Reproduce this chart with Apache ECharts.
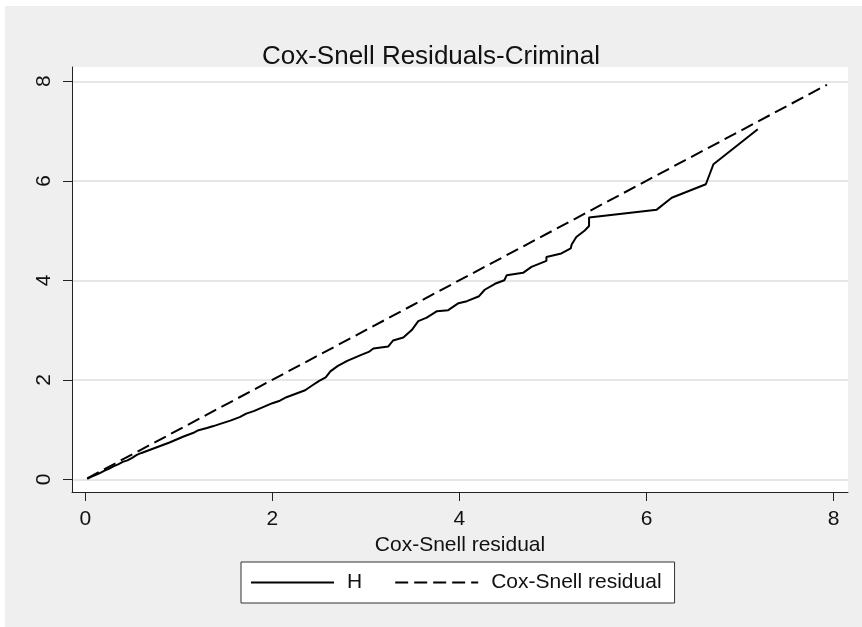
<!DOCTYPE html>
<html>
<head>
<meta charset="utf-8">
<script src="https://cdn.jsdelivr.net/npm/echarts@6/dist/echarts.min.js"></script>
<style>
html,body{margin:0;padding:0;background:#fff;}
#chart{width:862px;height:627px;}
</style>
</head>
<body>
<div id="chart"></div>
<script>
// ---- data ----
var titleText = 'Cox-Snell Residuals-Criminal';
var xAxisTitle = 'Cox-Snell residual';
var seriesNames = ['H', 'Cox-Snell residual'];
var xTicks = [0, 2, 4, 6, 8];
var yTicks = [0, 2, 4, 6, 8];
// Nelson-Aalen cumulative hazard H vs Cox-Snell residual
var hX = [0.02,0.05,0.10,0.15,0.20,0.25,0.30,0.35,0.40,0.45,0.50,0.55,0.60,0.70,0.80,0.90,1.00,1.05,1.15,1.20,1.30,1.37,1.45,1.55,1.65,1.72,1.80,1.90,2.00,2.08,2.15,2.25,2.35,2.42,2.50,2.57,2.62,2.70,2.80,2.90,2.95,3.03,3.08,3.24,3.29,3.40,3.49,3.56,3.65,3.76,3.88,3.99,4.08,4.21,4.27,4.38,4.48,4.505,4.68,4.77,4.93,4.93,5.09,5.19,5.20,5.21,5.25,5.34,5.386,5.386,6.11,6.27,6.635,6.716,7.19];
var hY = [0.01,0.04,0.08,0.12,0.17,0.21,0.26,0.30,0.35,0.38,0.43,0.49,0.53,0.60,0.67,0.74,0.82,0.86,0.93,0.98,1.03,1.07,1.12,1.18,1.25,1.32,1.37,1.45,1.53,1.58,1.65,1.72,1.79,1.88,1.98,2.05,2.17,2.28,2.38,2.46,2.50,2.56,2.63,2.67,2.79,2.85,3.00,3.18,3.25,3.38,3.40,3.54,3.58,3.68,3.81,3.93,4.00,4.10,4.15,4.27,4.39,4.47,4.54,4.64,4.72,4.75,4.87,5.00,5.09,5.26,5.42,5.66,5.93,6.332,7.035];
// Cox-Snell residual plotted against itself (reference line)
var csX = [0.02, 7.93];
var csY = [0.02, 7.93];

function pairs(xs, ys){ return xs.map(function(x,i){ return [x, ys[i]]; }); }

var FONT = '"Liberation Sans", Arial, Helvetica, sans-serif';
var chart = echarts.init(document.getElementById('chart'), null, {renderer:'canvas'});
chart.setOption({
  backgroundColor: '#EFEFEF',
  animation: false,
  textStyle: {fontFamily: FONT},
  graphic: [
    {type:'rect', left:0, top:0, shape:{width:862, height:6}, style:{fill:'#fff'}, z:-10, silent:true},
    {type:'rect', left:0, top:0, shape:{width:5, height:627}, style:{fill:'#fff'}, z:-10, silent:true}
  ],
  title: {
    text: titleText,
    left: 'center',
    top: 39,
    textStyle: {fontFamily: FONT, fontSize: 26, fontWeight: 'normal', color: '#111'}
  },
  grid: {
    left: 72, right: 14, top: 67, bottom: 135,
    show: true, backgroundColor: '#fff', borderWidth: 0
  },
  xAxis: {
    type: 'value',
    min: -0.143, max: 8.155,
    name: xAxisTitle,
    nameLocation: 'middle',
    nameGap: 35,
    nameTextStyle: {fontFamily: FONT, fontSize: 21, color: '#111'},
    axisLine: {show: true, onZero: false, lineStyle: {color: '#222', width: 1}},
    axisTick: {show: true, length: 9, customValues: xTicks, lineStyle: {color: '#222', width: 1}},
    axisLabel: {customValues: xTicks, margin: 17, fontFamily: FONT, fontSize: 21, color: '#111'},
    splitLine: {show: false}
  },
  yAxis: {
    type: 'value',
    min: -0.255, max: 8.287,
    axisLine: {show: true, onZero: false, lineStyle: {color: '#222', width: 1}},
    axisTick: {show: true, length: 9, customValues: yTicks, lineStyle: {color: '#222', width: 1}},
    axisLabel: {customValues: yTicks, rotate: 90, margin: 17, fontFamily: FONT, fontSize: 21, color: '#111'},
    splitLine: {show: true, lineStyle: {color: '#E6E6E6', width: 2}}
  },
  legend: {
    left: 241, top: 562,
    orient: 'horizontal',
    backgroundColor: '#fff',
    borderColor: '#333', borderWidth: 1,
    padding: [10, 13, 10, 9],
    itemWidth: 83, itemHeight: 20,
    itemGap: 32,
    itemStyle: {opacity: 0},
    textStyle: {fontFamily: FONT, fontSize: 21, color: '#111', padding: [0,0,0,8]},
    data: seriesNames
  },
  series: [
    {
      name: seriesNames[0], type: 'line', data: pairs(hX, hY),
      symbol: 'none', smooth: false,
      lineStyle: {color: '#000', width: 2},
      itemStyle: {color: '#000'}
    },
    {
      name: seriesNames[1], type: 'line', data: pairs(csX, csY),
      symbol: 'none',
      lineStyle: {color: '#000', width: 2, type: [13, 6]},
      itemStyle: {color: '#000'}
    }
  ]
});
</script>
</body>
</html>
